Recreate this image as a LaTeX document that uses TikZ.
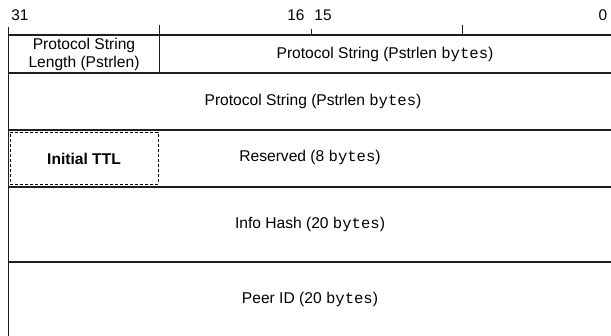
\documentclass[tikz,border=0pt]{standalone}
\usepackage{fontspec}
\setmainfont{Liberation Sans}
\setmonofont{Liberation Mono}
\usepackage{tikz}
\usetikzlibrary{positioning}
\definecolor{ln}{RGB}{30, 30, 30}
\def\leftx{8}
\def\rightx{611}
\newcommand{\byt}{\texttt{bytes}}
\newcommand{\fieldrow}[2]{\coordinate (#1l) at (\leftx,#2);
	\coordinate (#1r) at (\rightx,#2);
	\draw[rowline] (#1l) -- (#1r); }

\begin{document}
\begin{tikzpicture}[x=1pt,y=-1pt,
	rowline/.style={line width=1.3pt,color=ln},
	tick/.style={line width=0.9pt,color=ln},
	bitnum/.style={font=\fontsize{15.4}{17}\selectfont,inner sep=0pt},
	field/.style={font=\fontsize{15.6}{18}\selectfont,align=center,inner sep=0pt}]
\useasboundingbox (0,0) rectangle (611,336);

\node[bitnum] (b31) at (20,15) {31};
\node[bitnum] (b16) at (296,15) {16};
\node[bitnum] (b15) at (323,15) {15};
\node[bitnum] (b0) at (603,15) {0};

\fieldrow{top}{35}
\fieldrow{ra}{73}
\fieldrow{rb}{130}
\fieldrow{rc}{187}
\fieldrow{rd}{262}

\coordinate (lt) at (\leftx,27);
\coordinate (lb) at (\leftx,336);
\coordinate (dt) at (159,25);
\coordinate (db) at (159,73);
\coordinate (ta) at (311,29);
\coordinate (tb) at (311,35);
\coordinate (tc) at (462,25);
\coordinate (td) at (462,35);
\draw[tick] (lt) -- (lb);
\draw[tick] (dt) -- (db);
\draw[tick] (ta) -- (tb);
\draw[tick] (tc) -- (td);

\node[field] (len) at (84,54) {Protocol String\\Length (Pstrlen)};
\node[field] (str1) at (385,54) {Protocol String (Pstrlen \byt)};
\node[field] (str2) at (313,101) {Protocol String (Pstrlen \byt)};
\node[draw,densely dashed,line width=0.6pt,minimum width=148pt,minimum height=52pt,
	font=\fontsize{15.6}{18}\selectfont\bfseries,inner sep=0pt] (ttl) at (84,158.5) {Initial TTL};
\node[field] (res) at (310,157) {Reserved (8 \byt)};
\node[field] (hash) at (310,224) {Info Hash (20 \byt)};
\node[field] (peer) at (310,299) {Peer ID (20 \byt)};
\end{tikzpicture}
\end{document}
